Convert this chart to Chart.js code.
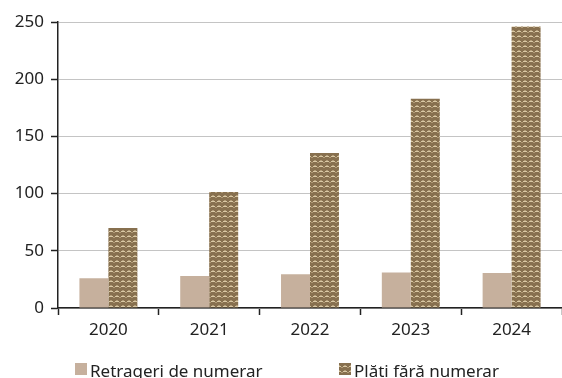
<!DOCTYPE html>
<html>
<head>
<meta charset="utf-8">
<script src="https://cdn.jsdelivr.net/npm/chart.js@4/dist/chart.umd.min.js"></script>
<style>
  html, body { margin: 0; padding: 0; background: #fff; overflow: hidden; }
  #wrap { position: relative; width: 562px; height: 394px; }
</style>
</head>
<body>
<div id="wrap"><canvas id="payChart"></canvas></div>
<script>
const YEARS       = ['2020', '2021', '2022', '2023', '2024'];
const WITHDRAWALS = [26, 28, 29.5, 31, 30.5];
const CASHLESS    = [70, 101.5, 135.5, 183, 246];
const Y_TICKS     = [0, 50, 100, 150, 200, 250];

const FONT = "'Noto Sans', 'Open Sans', sans-serif";

// small zig-zag tile for the cashless series
function makePattern() {
  const c = document.createElement('canvas');
  c.width = 6; c.height = 5;
  const g = c.getContext('2d');
  g.fillStyle = '#87704f';
  g.fillRect(0, 0, 6, 5);
  g.fillStyle = '#d9c8a4';
  g.fillRect(1, 1, 4, 1);
  g.fillStyle = '#b29c78';
  g.fillRect(0, 2, 1, 1);
  g.fillRect(5, 2, 1, 1);
  g.fillRect(2, 0, 2, 1);
  return g.createPattern(c, 'repeat');
}

const pattern = makePattern();

// legend with wide gap between the two entries, like the source
const spacedLegend = {
  id: 'spacedLegend',
  afterDraw(chart) {
    const ctx = chart.ctx;
    const xs = [75, 339];
    ctx.save();
    ctx.font = '17px ' + FONT;
    ctx.textBaseline = 'alphabetic';
    ctx.textAlign = 'left';
    chart.data.datasets.forEach((ds, i) => {
      ctx.fillStyle = ds.backgroundColor;
      ctx.fillRect(xs[i], 363, 12, 12);
      ctx.fillStyle = '#222';
      ctx.fillText(ds.label, xs[i] + 15, 377);
    });
    ctx.restore();
  },
};

new Chart(document.getElementById('payChart'), {
  type: 'bar',
  data: {
    labels: YEARS,
    datasets: [
      { label: 'Retrageri de numerar', data: WITHDRAWALS, backgroundColor: '#c6b09d', borderWidth: 0 },
      { label: 'Plăți fără numerar',   data: CASHLESS,    backgroundColor: pattern,   borderWidth: 0 },
    ],
  },
  plugins: [spacedLegend],
  options: {
    responsive: true, maintainAspectRatio: false, animation: false,
    categoryPercentage: 0.575, barPercentage: 1,
    layout: { padding: { top: 22, right: 0, left: 0, bottom: 44 } },
    plugins: {
      tooltip: { enabled: false },
      legend: { display: false },
    },
    scales: {
      x: {
        grid: { drawOnChartArea: false, drawTicks: true, tickLength: 7, tickColor: '#222', tickWidth: 1.5, offset: true },
        border: { color: '#222', width: 1.5 },
        ticks: { color: '#222', font: { size: 17, family: FONT }, padding: 5 },
        afterFit: s => { s.height = 42; },
      },
      y: {
        min: 0, max: 250,
        afterBuildTicks: s => { s.ticks = Y_TICKS.map(v => ({ value: v })); },
        grid: { color: '#c4c4c4', borderDash: [1, 1], tickLength: 7, tickColor: '#222', tickWidth: 1.5, tickBorderDash: [] },
        border: { color: '#222', width: 1.5 },
        ticks: { color: '#222', font: { size: 17, family: FONT }, padding: 7 },
        afterFit: s => { s.width = 58; },
      },
    },
  },
});
</script>
</body>
</html>
